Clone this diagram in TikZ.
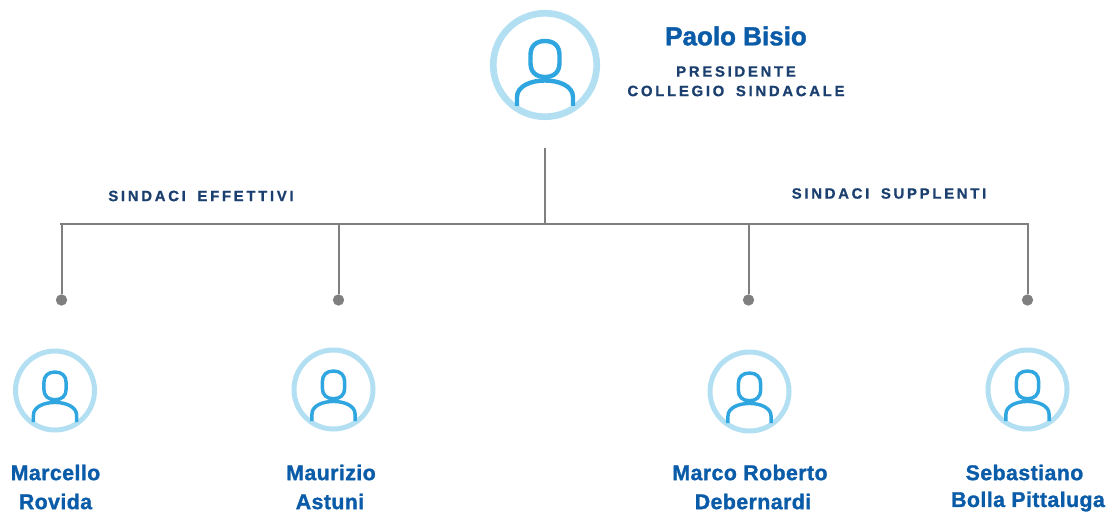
\documentclass[tikz,border=0pt]{standalone}
\usepackage{fontspec}
\setmainfont{Liberation Sans}
\newfontface\spacedfont[LetterSpace=18, WordSpace=1.7, FakeBold=0.8]{Liberation Sans Bold}
\newfontface\namefont[LetterSpace=2, FakeBold=1.3]{Liberation Sans Bold}
\newfontface\mainfont[FakeBold=1.6]{Liberation Sans Bold}
\definecolor{ringblue}{HTML}{B3DFF3}
\definecolor{iconblue}{HTML}{2FA6E0}
\definecolor{nameblue}{HTML}{0B5CA8}
\definecolor{roleblue}{HTML}{1B3F6E}
\definecolor{linegray}{HTML}{7F7F7F}
\begin{document}
\begin{tikzpicture}[x=0.75pt, y=-0.75pt]
    \tikzset{
        bigring/.style={draw=ringblue, shape=circle, line width=5pt, minimum size=77.6pt, inner sep=0pt},
        smallring/.style={draw=ringblue, shape=circle, line width=3.75pt, minimum size=59.25pt, inner sep=0pt},
        graydot/.style={fill=linegray, shape=circle, minimum size=8.5pt, inner sep=0pt},
        mainname/.style={text=nameblue, font=\mainfont\fontsize{19.5}{22}\selectfont},
        membername/.style={text=nameblue, font=\namefont\fontsize{16}{18}\selectfont},
        rolename/.style={text=roleblue, font=\spacedfont\fontsize{11.2}{13}\selectfont},
        iconwidth/.initial=3.3pt,
        pics/person/.style={code={
            \draw[iconblue, line width=\pgfkeysvalueof{/tikz/iconwidth}]
                (-14.5,-10) .. controls (-14.5,-19) and (-9,-24) .. (0,-24)
                .. controls (9,-24) and (14.5,-19) .. (14.5,-10) -- (14.5,-2)
                .. controls (14.5,7) and (9,12) .. (0,12)
                .. controls (-9,12) and (-14.5,7) .. (-14.5,-2) -- cycle;
            \draw[iconblue, line width=\pgfkeysvalueof{/tikz/iconwidth}]
                (-28,41) -- (-28,32) .. controls (-28,21) and (-14,15.5) .. (0,15.5)
                .. controls (14,15.5) and (28,21) .. (28,32) -- (28,41);
        }}
    }
    \useasboundingbox (0,0) rectangle (1110,513);

    \node[bigring] (bisio) at (545,65) {};
    \node[smallring] (rovida) at (55,390.5) {};
    \node[smallring] (astuni) at (333.5,389.5) {};
    \node[smallring] (debernardi) at (749.5,391.5) {};
    \node[smallring] (pittaluga) at (1027.5,389.5) {};

    \pic at (bisio) {person};
    \pic[scale=.77, iconwidth=2.6pt] at (rovida) {person};
    \pic[scale=.77, iconwidth=2.6pt] at (astuni) {person};
    \pic[scale=.77, iconwidth=2.6pt] at (debernardi) {person};
    \pic[scale=.77, iconwidth=2.6pt] at (pittaluga) {person};

    \node[mainname] (bisioname) at (736,36) {Paolo Bisio};
    \node[rolename] (bisiorole) at (736,71.5) {PRESIDENTE};
    \node[rolename] (bisiocollege) at (736,91) {COLLEGIO SINDACALE};
    \node[rolename] (effettivi) at (201,196) {SINDACI EFFETTIVI};
    \node[rolename] (supplenti) at (889,193.5) {SINDACI SUPPLENTI};

    \node[membername] (rovidafirst) at (55.5,472.5) {Marcello};
    \node[membername] (rovidalast) at (55.5,501.5) {Rovida};
    \node[membername] (astunifirst) at (331,472.5) {Maurizio};
    \node[membername] (astunilast) at (330,501.5) {Astuni};
    \node[membername] (debernardifirst) at (750,472.5) {Marco Roberto};
    \node[membername] (debernardilast) at (753,501.5) {Debernardi};
    \node[membername] (pittalugafirst) at (1024.5,472.5) {Sebastiano};
    \node[membername] (pittalugalast) at (1028,501.5) {Bolla Pittaluga};

    \node[graydot] (rovidadot) at (61.5,300) {};
    \node[graydot] (astunidot) at (338.5,300) {};
    \node[graydot] (debernardidot) at (748.5,300) {};
    \node[graydot] (pittalugadot) at (1027.5,300) {};

    \coordinate (stemtop) at (545,148);
    \coordinate (stembottom) at (545,224);
    \coordinate (barleft) at (60,224);
    \coordinate (barright) at (1029,224);

    \path[draw=linegray, line width=1.5pt]
        (stemtop) -- (stembottom)
        (barleft) -- (barright)
        (rovidadot) -- (rovidadot |- barleft)
        (astunidot) -- (astunidot |- barleft)
        (debernardidot) -- (debernardidot |- barleft)
        (pittalugadot) -- (pittalugadot |- barleft);
\end{tikzpicture}
\end{document}
